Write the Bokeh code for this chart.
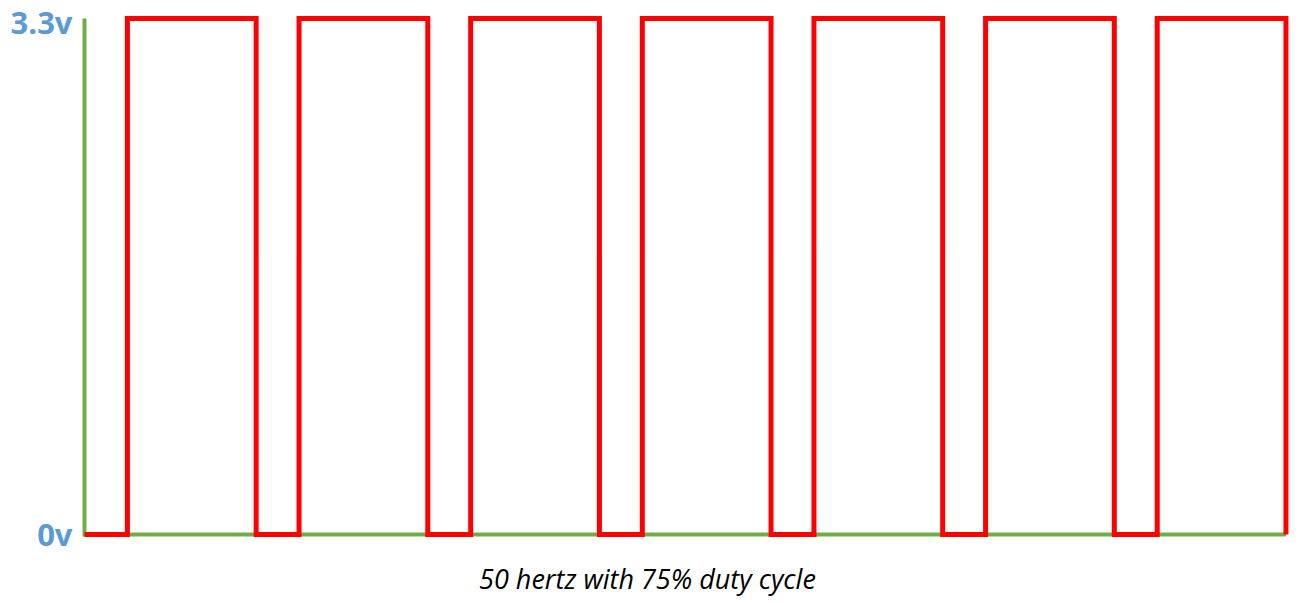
from bokeh.plotting import figure
from bokeh.models import Range1d, FixedTicker, Label
from bokeh.embed import file_html
from bokeh.resources import INLINE

# data: time in ms, voltage levels
step_times_ms = [0, 5, 20, 25, 40, 45, 60, 65, 80, 85, 100, 105, 120, 125, 140]
step_volts = [0, 3.3, 0, 3.3, 0, 3.3, 0, 3.3, 0, 3.3, 0, 3.3, 0, 3.3, 0]
axis_x = [0, 0, 140]
axis_y = [3.3, 0, 0]
tick_values = [0, 3.3]
tick_labels = {0: "0v", 3.3: "3.3v"}
caption = "50 hertz with 75% duty cycle"

p = figure(width=1299, height=600, output_backend="svg", toolbar_location=None,
           x_range=Range1d(-0.466, 140.53), y_range=Range1d(-0.4221, 3.3384),
           min_border_left=80, min_border_right=9, min_border_top=12, min_border_bottom=0)
p.outline_line_color = None
p.background_fill_color = "white"
p.border_fill_color = "white"
p.grid.visible = False
p.xaxis.visible = False

ya = p.yaxis[0]
ya.ticker = FixedTicker(ticks=tick_values)
ya.major_label_overrides = tick_labels
ya.axis_line_color = None
ya.major_tick_line_color = None
ya.minor_tick_line_color = None
ya.major_tick_out = 0
ya.major_tick_in = 0
ya.minor_tick_out = 0
ya.minor_tick_in = 0
ya.major_label_text_font = "Open Sans"
ya.major_label_text_font_style = "bold"
ya.major_label_text_font_size = "31px"
ya.major_label_text_color = "#5B9BD5"
ya.major_label_standoff = 8

p.line(axis_x, axis_y, line_color="#70AD47", line_width=4, line_join="miter")
p.step(step_times_ms, step_volts, mode="after", line_color="#FF0000", line_width=5,
       line_join="miter")

p.add_layout(Label(x=65.6, y=-0.281, text=caption, text_align="center", text_baseline="middle",
                   text_font="Open Sans", text_font_style="italic", text_font_size="27px",
                   text_color="black"))

open("out.html", "w").write(file_html(p, INLINE))
